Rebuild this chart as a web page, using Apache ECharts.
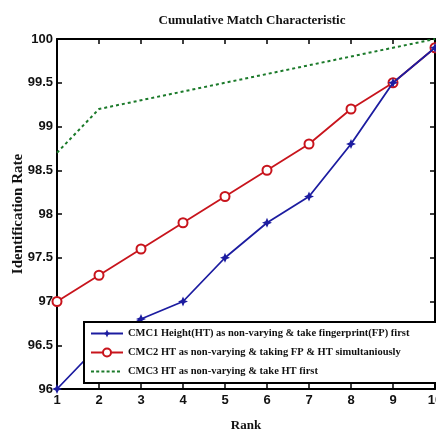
<!DOCTYPE html>
<html>
<head>
<meta charset="utf-8">
<script src="https://cdn.jsdelivr.net/npm/echarts@6/dist/echarts.min.js"></script>
<style>
  html, body { margin: 0; padding: 0; background: #fff; }
  #main { width: 436px; height: 429px; }
</style>
</head>
<body>
<div id="main"></div>
<script>
// data
var ranks = [1, 2, 3, 4, 5, 6, 7, 8, 9, 10];
var cmc1 = [96.0, 96.5, 96.8, 97.0, 97.5, 97.9, 98.2, 98.8, 99.5, 99.9];
var cmc2 = [97.0, 97.3, 97.6, 97.9, 98.2, 98.5, 98.8, 99.2, 99.5, 99.9];
var cmc3 = [98.7, 99.2, 99.3, 99.4, 99.5, 99.6, 99.7, 99.8, 99.9, 100.0];
var seriesNames = [
    'CMC1 Height(HT) as non-varying & take fingerprint(FP) first',
    'CMC2 HT as non-varying & taking FP & HT simultaniously',
    'CMC3 HT as non-varying & take HT first'
];

function pairs(vals) {
    return ranks.map(function (r, i) { return [r, vals[i]]; });
}

var star = 'path://M0,-10 L3,-3 L10,0 L3,3 L0,10 L-3,3 L-10,0 L-3,-3 Z';
// dotted legend icon: tiny corner points keep the box 32x10 so the dashes sit in the middle
var dots = 'path://M0,0 L0.01,0 L0,0.01 Z M32,10 L31.99,10 L32,9.99 Z' +
    ' M0,4.1 h3 v1.8 h-3 Z M5.2,4.1 h3 v1.8 h-3 Z M10.4,4.1 h3 v1.8 h-3 Z M15.6,4.1 h3 v1.8 h-3 Z' +
    ' M20.8,4.1 h3 v1.8 h-3 Z M26,4.1 h3 v1.8 h-3 Z';
var serif = '"Liberation Serif", "DejaVu Serif", serif';
var sans = '"Liberation Sans", Arial, sans-serif';

function displayChart() {
    var chartDom = document.getElementById('main');
    var myChart = echarts.init(chartDom);
    var option = {
        animation: false,
        title: {
            text: 'Cumulative Match Characteristic',
            left: 247,
            textAlign: 'center',
            top: 9,
            textStyle: { fontFamily: serif, fontWeight: 'bold', fontSize: 13, color: '#111' }
        },
        grid: { left: 57, right: 1, top: 39, bottom: 40, outerBoundsMode: 'none', containLabel: false },
        legend: {
            orient: 'vertical',
            left: 84,
            top: 322,
            width: 352,
            padding: [6, 30, 6, 6],
            itemGap: 8,
            itemWidth: 32,
            itemHeight: 10,
            backgroundColor: '#fff',
            borderColor: '#000',
            borderWidth: 2,
            textStyle: { fontFamily: serif, fontWeight: 'bold', fontSize: 10.5, color: '#111' },
            data: [
                { name: seriesNames[0] },
                { name: seriesNames[1] },
                { name: seriesNames[2], icon: dots, itemStyle: { color: '#1b7a2a' } }
            ]
        },
        xAxis: [{
            type: 'value',
            min: 1, max: 10, interval: 1,
            name: 'Rank',
            nameLocation: 'middle',
            nameGap: 30,
            nameMoveOverlap: false,
            nameTextStyle: { fontFamily: serif, fontWeight: 'bold', fontSize: 13, color: '#111' },
            axisLine: { lineStyle: { color: '#000', width: 2 } },
            axisTick: { inside: true, length: 5, lineStyle: { color: '#000', width: 1.5 } },
            axisLabel: { fontFamily: sans, fontWeight: 'bold', fontSize: 13, color: '#111', margin: 5 },
            splitLine: { show: false }
        }, {
            type: 'value',
            position: 'top',
            min: 1, max: 10, interval: 1,
            axisLine: { lineStyle: { color: '#000', width: 2 } },
            axisTick: { inside: true, length: 5, lineStyle: { color: '#000', width: 1.5 } },
            axisLabel: { show: false },
            splitLine: { show: false }
        }],
        yAxis: [{
            type: 'value',
            min: 96, max: 100, interval: 0.5,
            name: 'Identification Rate',
            nameLocation: 'middle',
            nameGap: 31,
            nameMoveOverlap: false,
            nameTextStyle: { fontFamily: serif, fontWeight: 'bold', fontSize: 15, color: '#111' },
            axisLine: { lineStyle: { color: '#000', width: 2 } },
            axisTick: { inside: true, length: 5, lineStyle: { color: '#000', width: 1.5 } },
            axisLabel: { fontFamily: sans, fontWeight: 'bold', fontSize: 13, color: '#111', margin: 4 },
            splitLine: { show: false }
        }, {
            type: 'value',
            position: 'right',
            min: 96, max: 100, interval: 0.5,
            axisLine: { lineStyle: { color: '#000', width: 2 } },
            axisTick: { inside: true, length: 5, lineStyle: { color: '#000', width: 1.5 } },
            axisLabel: { show: false },
            splitLine: { show: false }
        }],
        series: [
            {
                name: seriesNames[0],
                type: 'line',
                data: pairs(cmc1),
                symbol: star,
                symbolSize: 10,
                itemStyle: { color: '#1c1ca0' },
                lineStyle: { color: '#1c1ca0', width: 1.8 },
                z: 3
            },
            {
                name: seriesNames[1],
                type: 'line',
                data: pairs(cmc2),
                symbol: 'emptyCircle',
                symbolSize: 9,
                itemStyle: { color: '#c8141c', borderWidth: 1.5 },
                lineStyle: { color: '#c8141c', width: 1.8 },
                z: 2
            },
            {
                name: seriesNames[2],
                type: 'line',
                data: pairs(cmc3),
                symbol: 'none',
                itemStyle: { color: '#1b7a2a' },
                lineStyle: { color: '#1b7a2a', width: 2, type: [3, 3] },
                z: 1
            }
        ]
    };
    myChart.setOption(option);
}
displayChart();
</script>
</body>
</html>
